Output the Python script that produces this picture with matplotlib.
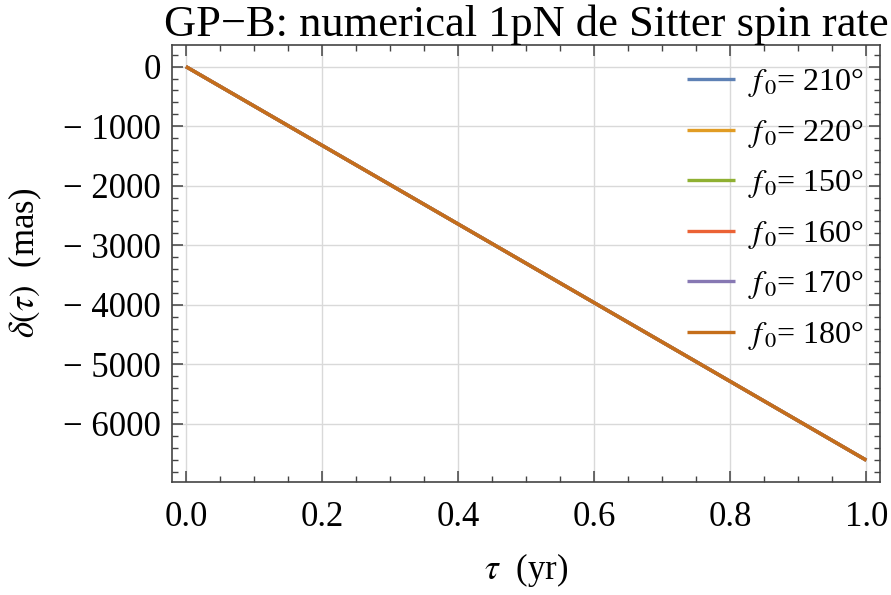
import numpy as np
import matplotlib.pyplot as plt
from matplotlib.ticker import MultipleLocator

plt.rcParams['font.family'] = ['Liberation Serif', 'DejaVu Serif']
plt.rcParams['mathtext.fontset'] = 'stix'

# data: all six curves lie on top of each other
tau = [0.0, 0.25, 0.5, 0.75, 1.0]
f0_labels = ["210", "220", "150", "160", "170", "180"]
delta_210 = [0, -1652, -3304, -4956, -6610]
delta_220 = [0, -1652, -3304, -4956, -6610]
delta_150 = [0, -1652, -3304, -4956, -6610]
delta_160 = [0, -1652, -3304, -4956, -6610]
delta_170 = [0, -1652, -3304, -4956, -6610]
delta_180 = [0, -1652, -3304, -4956, -6610]
series = [delta_210, delta_220, delta_150, delta_160, delta_170, delta_180]
colors = ["#5E81B5", "#E19C24", "#8FB032", "#EB6235", "#8778B3", "#C56E1A"]

fig = plt.figure(figsize=(8.91, 5.95), dpi=100)
ax = fig.add_axes([0.193, 0.190, 0.795, 0.735])

for lab, d, c in zip(f0_labels, series, colors):
    ax.plot(tau, d, color=c, lw=2.4, label=r"$f_{\,0}$= " + lab + "°",
            solid_capstyle='butt')

ax.set_xlim(-0.0206, 1.0206)
ax.set_ylim(-6975, 370)
ax.xaxis.set_major_locator(MultipleLocator(0.2))
ax.xaxis.set_minor_locator(MultipleLocator(0.05))
ax.yaxis.set_major_locator(MultipleLocator(1000))
ax.yaxis.set_minor_locator(MultipleLocator(200))
ax.xaxis.set_major_formatter(plt.FuncFormatter(lambda v, p: "%.1f" % v))
ax.yaxis.set_major_formatter(plt.FuncFormatter(
    lambda v, p: ("\u2212 %d" % -v) if v < 0 else "%d" % v))

ax.grid(True, which='major', color='#d9d9d9', lw=1.0)
ax.set_axisbelow(True)
for s in ax.spines.values():
    s.set_color('#444444')
    s.set_linewidth(1.2)
ax.tick_params(which='both', direction='in', top=True, right=True,
               color='#444444', labelsize=25)
ax.tick_params(axis='x', pad=14)
ax.tick_params(axis='y', pad=8)
ax.tick_params(which='major', length=8, width=1.1)
ax.tick_params(which='minor', length=4.5, width=1.0)

ax.set_title("GP\u2212B: numerical 1pN de Sitter spin rate", fontsize=32,
             pad=2)
ax.set_xlabel(r"$\tau$  (yr)", fontsize=25, labelpad=12)
ax.set_ylabel(r"$\delta(\tau)$  (mas)", fontsize=25, labelpad=14)

leg = ax.legend(loc='upper right', bbox_to_anchor=(0.995, 0.98),
                frameon=False, fontsize=23, borderaxespad=0,
                handlelength=1.5, handletextpad=0.4, labelspacing=0.55)

fig.savefig("out.png", dpi=100)
